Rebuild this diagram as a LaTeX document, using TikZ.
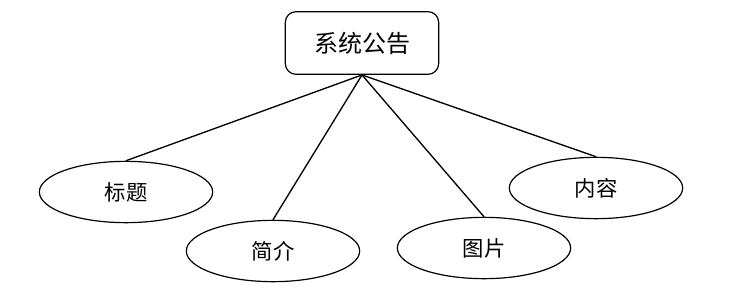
\documentclass[tikz,border=0pt]{standalone}
\usepackage{fontspec}
\newfontfamily\cjk{Noto Sans CJK SC}
\usetikzlibrary{shapes.geometric}

\begin{document}
\begin{tikzpicture}[
    x=0.75pt, y=-0.75pt,
    topbox/.style={rectangle, draw=black, fill=white, minimum width=115pt, minimum height=47pt, rounded corners=8pt, line width=0.9pt, font=\cjk\fontsize{18}{21}\selectfont},
    attr/.style={ellipse, draw=black, fill=white, minimum width=130pt, minimum height=46pt, inner sep=0pt, line width=0.9pt, font=\cjk\fontsize{16}{19}\selectfont},
    link/.style={line width=1pt}
]
\useasboundingbox (0,0) rectangle (736,300);

% Nodes
\node[topbox] (notice) at (362,43) {系统公告};

\node[attr] (title) at (126,192) {标题};
\node[attr] (intro) at (273,251) {简介};
\node[attr] (pic) at (484,248) {图片};
\node[attr] (content) at (596,188) {内容};

% Lines
\draw[link] (notice.south) -- (title.north);
\draw[link] (notice.south) -- (intro.north);
\draw[link] (notice.south) -- (pic.north);
\draw[link] (notice.south) -- (content.north);

\end{tikzpicture}
\end{document}
